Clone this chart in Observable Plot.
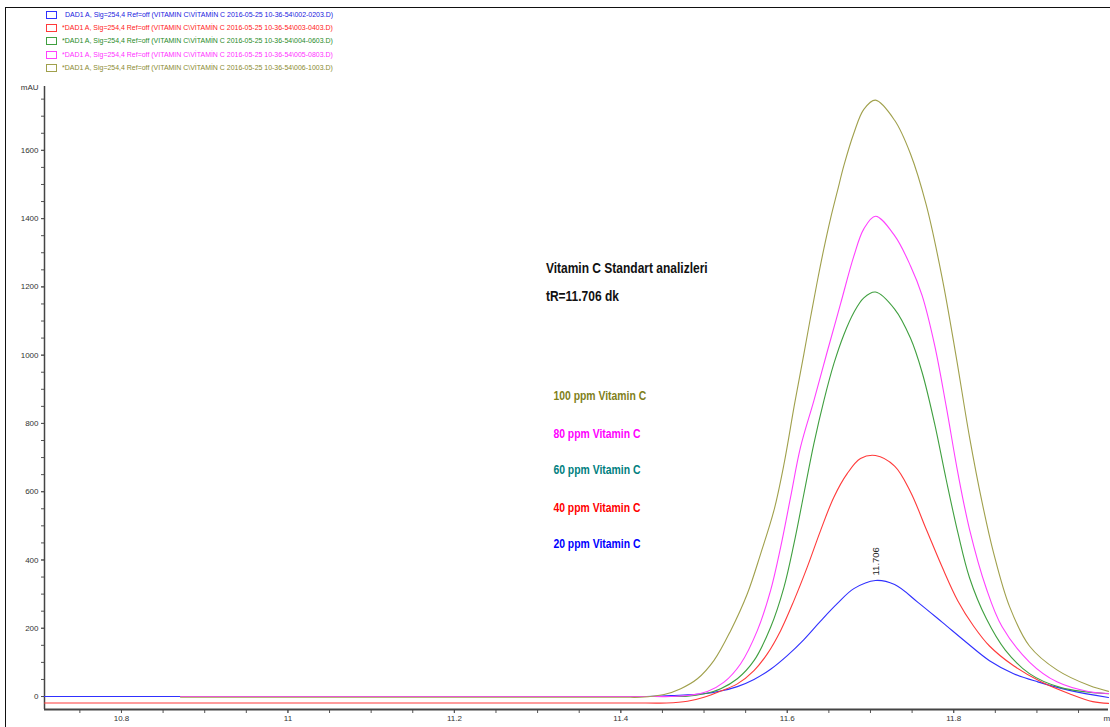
<!DOCTYPE html>
<html><head><meta charset="utf-8">
<script src="https://cdn.jsdelivr.net/npm/d3@7"></script>
<script src="https://cdn.jsdelivr.net/npm/@observablehq/plot@0.6"></script>
<style>
html,body{margin:0;padding:0;background:#fff}
body{width:1110px;height:727px;overflow:hidden;position:relative;font-family:"Liberation Sans",Arial,sans-serif}
#frame{position:absolute;left:5px;top:7px;width:1200px;height:800px;border-left:1.5px solid #111;border-top:1.5px solid #111;pointer-events:none;z-index:2}
#legend{position:relative;height:78px;width:1110px}
.row{position:absolute;left:46px;height:12px;font-size:8px;line-height:12px;white-space:nowrap}
.box{position:absolute;left:0;top:2px;width:9px;height:6px;border:1px solid}
.txt{position:absolute;left:16px;top:0;transform:scaleX(0.87);transform-origin:0 50%}
#chart svg{display:block}
</style></head>
<body>
<div id="frame"></div>
<div id="legend"></div>
<div id="chart"></div>
<script>
// ---- data ----
const seriesFiles = ["002-0203", "003-0403", "004-0603", "005-0803", "006-1003"];
const seriesStars = ["", "*", "*", "*", "*"];
const seriesColors = ["#3030ff", "#ff3a3a", "#3f9f3f", "#ff40ff", "#a0a04c"];
const legendTextColors = ["#2020e0", "#ff2020", "#1f8a1f", "#ff30ff", "#8a8a30"];

// retention time (min) and absorbance (mAU)
const blueT = [10.7075, 11.40, 11.424, 11.46, 11.5, 11.52, 11.54, 11.56, 11.58, 11.6, 11.62, 11.64, 11.66, 11.68, 11.706, 11.729, 11.757, 11.786, 11.815, 11.843, 11.872, 11.901, 11.939, 11.986];
const blueV = [0, 0, 0, 3, 8, 16, 29, 50, 80, 120, 167, 221, 272, 316, 340, 328, 276, 218, 159, 105, 67, 43, 18, -3];

const redT = [10.7075, 11.43, 11.455, 11.48, 11.5, 11.52, 11.54, 11.56, 11.576, 11.592, 11.608, 11.624, 11.64, 11.656, 11.672, 11.688, 11.706, 11.729, 11.748, 11.767, 11.786, 11.805, 11.824, 11.843, 11.872, 11.905, 11.939, 11.967, 11.986];
const redV = [-19, -19, -19, -14, -2, 16, 37, 76, 125, 193, 281, 379, 486, 584, 653, 697, 706, 675, 600, 490, 380, 280, 206, 148, 90, 43, 8, -15, -20];

const greenT = [10.871, 11.44, 11.46, 11.48, 11.5, 11.52, 11.54, 11.56, 11.58, 11.596, 11.608, 11.62, 11.632, 11.644, 11.656, 11.668, 11.68, 11.692, 11.706, 11.729, 11.748, 11.762, 11.777, 11.791, 11.805, 11.819, 11.839, 11.862, 11.891, 11.929, 11.986];
const greenV = [0, 0, 0, 1, 8, 23, 52, 105, 203, 320, 447, 594, 741, 867, 975, 1060, 1125, 1168, 1185, 1135, 1050, 950, 800, 635, 480, 348, 229, 136, 67, 26, 8];

const magentaT = [10.871, 11.44, 11.46, 11.48, 11.504, 11.524, 11.544, 11.564, 11.58, 11.592, 11.604, 11.616, 11.632, 11.648, 11.664, 11.68, 11.692, 11.706, 11.729, 11.748, 11.762, 11.777, 11.791, 11.805, 11.819, 11.839, 11.858, 11.891, 11.924, 11.963, 11.986];
const magentaV = [0, 0, 0, 3, 15, 42, 96, 193, 311, 437, 584, 731, 867, 1010, 1150, 1290, 1370, 1407, 1350, 1262, 1175, 1030, 850, 655, 490, 318, 205, 101, 43, 14, 9];

const oliveT = [10.871, 11.40, 11.424, 11.452, 11.472, 11.492, 11.512, 11.532, 11.552, 11.568, 11.584, 11.596, 11.609, 11.62, 11.628, 11.636, 11.644, 11.652, 11.66, 11.668, 11.68, 11.692, 11.706, 11.729, 11.748, 11.767, 11.786, 11.803, 11.819, 11.834, 11.848, 11.867, 11.891, 11.924, 11.963, 11.986];
const oliveV = [-2, -2, -2, 6, 23, 52, 106, 193, 301, 418, 545, 680, 860, 1004, 1111, 1215, 1312, 1400, 1478, 1555, 1650, 1720, 1747, 1688, 1590, 1440, 1228, 995, 760, 570, 420, 264, 148, 78, 32, 15];

// axes
const xDomain = [10.7075, 11.986];
const yDomain = [-38, 1787];
const xTickLabels = [10.8, 11, 11.2, 11.4, 11.6, 11.8];
const xMinorTicks = d3.range(0, 25).map(i => +(10.75 + i * 0.05).toFixed(2));
const yTickLabels = [0, 200, 400, 600, 800, 1000, 1200, 1400, 1600];
const yMinorTicks = d3.range(0, 36).map(i => i * 50);

// annotations
const titleLines = ["Vitamin C Standart analizleri", "tR=11.706 dk"];
const titleX = 11.310;
const titleY = [1254, 1172];
const ppmLabels = ["100 ppm Vitamin C", "80 ppm Vitamin C", "60 ppm Vitamin C", "40 ppm Vitamin C", "20 ppm Vitamin C"];
const ppmColors = ["#7f7f1a", "#ff00ff", "#008080", "#ff0000", "#0000ff"];
const ppmX = 11.319;
const ppmY = [882, 771, 665, 554, 448];
const peakTime = 11.706;
const peakValue = 340;
const peakLabel = "11.706";

// ---- legend ----
const legend = document.getElementById("legend");
seriesFiles.forEach((f, i) => {
  const row = document.createElement("div");
  row.className = "row";
  row.style.top = (9 + i * 13.2) + "px";
  const box = document.createElement("div");
  box.className = "box";
  box.style.borderColor = seriesColors[i];
  const txt = document.createElement("div");
  txt.className = "txt";
  txt.style.color = legendTextColors[i];
  txt.style.left = (i === 0 ? 19 : 16) + "px";
  txt.textContent = `${seriesStars[i]}DAD1 A, Sig=254,4 Ref=off (VITAMIN C\\VİTAMİN C 2016-05-25 10-36-54\\${f}.D)`;
  row.appendChild(box); row.appendChild(txt);
  legend.appendChild(row);
});

// ---- chart ----
const mk = (T, V) => T.map((t, i) => ({t, v: V[i]}));
const seriesData = [mk(blueT, blueV), mk(redT, redV), mk(greenT, greenV), mk(magentaT, magentaV), mk(oliveT, oliveV)];
const fmt = d => String(d);

const chart = Plot.plot({
  width: 1110,
  height: 649,
  marginLeft: 44,
  marginRight: 2,
  marginTop: 8,
  marginBottom: 18,
  x: {domain: xDomain},
  y: {domain: yDomain},
  style: {fontFamily: "'Liberation Sans',Arial,sans-serif", fontSize: "8px", color: "#333", background: "transparent", overflow: "visible"},
  marks: [
    Plot.axisX({ticks: xMinorTicks, tickSize: 4, tickFormat: () => "", label: null, stroke: "#555"}),
    Plot.axisX({ticks: xTickLabels, tickSize: 4, tickPadding: 2, tickFormat: fmt, label: null, stroke: "#555", fill: "#333"}),
    Plot.axisY({ticks: yMinorTicks, tickSize: 3, tickFormat: () => "", label: null, stroke: "#555"}),
    Plot.axisY({ticks: yTickLabels, tickSize: 3, tickPadding: 3, tickFormat: fmt, label: null, stroke: "#555", fill: "#333"}),
    Plot.ruleX([xDomain[0]], {stroke: "#444", strokeWidth: 1.5}),
    Plot.ruleY([yDomain[0]], {stroke: "#444", strokeWidth: 2}),
    Plot.text(["mAU"], {frameAnchor: "top-left", dx: -6, dy: -2, textAnchor: "end", fontSize: 8, fill: "#333"}),
    Plot.text(["m"], {frameAnchor: "bottom-right", dx: -5, dy: 11, textAnchor: "start", fontSize: 8, fill: "#333"}),
    ...seriesData.map((d, i) => Plot.line(d, {x: "t", y: "v", stroke: seriesColors[i], strokeWidth: 1.1, curve: "catmull-rom"})),
    Plot.text(titleLines, {x: () => titleX, y: (d, i) => titleY[i], text: d => d, textAnchor: "start", fontSize: 15, fontWeight: "bold", fill: "#111"}),
    Plot.text(ppmLabels, {x: () => ppmX, y: (d, i) => ppmY[i], text: d => d, textAnchor: "start", fontSize: 13, fontWeight: "bold", fill: (d, i) => ppmColors[i]}),
    Plot.text([peakLabel], {x: () => peakTime, y: () => peakValue, text: d => d, rotate: -90, textAnchor: "start", dy: -5, fontSize: 9.5, fill: "#222"})
  ]
});

// condense the bold annotation texts (narrow face look)
d3.select(chart).selectAll("text").each(function () {
  const t = this.textContent;
  if (titleLines.includes(t) || ppmLabels.includes(t)) {
    const tr = this.getAttribute("transform");
    if (tr) {
      this.setAttribute("transform", tr + " scale(0.8,1)");
    } else {
      const x = +this.getAttribute("x") || 0, y = +this.getAttribute("y") || 0;
      this.removeAttribute("x"); this.removeAttribute("y");
      this.setAttribute("transform", `translate(${x},${y}) scale(0.8,1)`);
    }
  }
});
document.getElementById("chart").appendChild(chart);
</script>
</body></html>
